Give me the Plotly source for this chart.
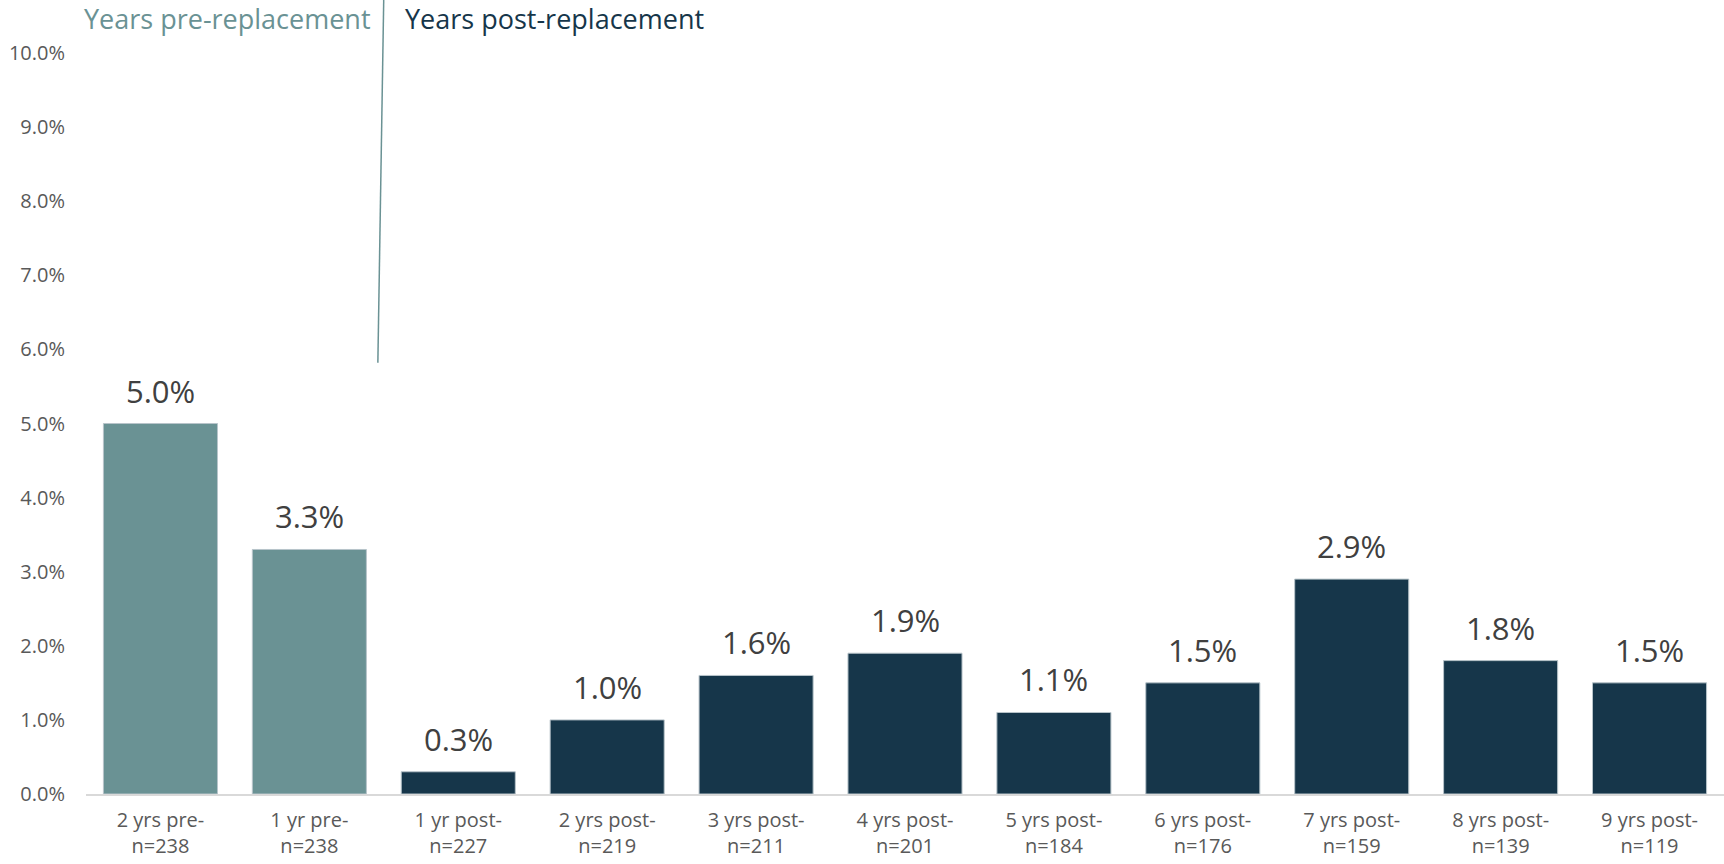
import plotly.graph_objects as go

categories = ["2 yrs pre-", "1 yr pre-", "1 yr post-", "2 yrs post-", "3 yrs post-",
              "4 yrs post-", "5 yrs post-", "6 yrs post-", "7 yrs post-", "8 yrs post-", "9 yrs post-"]
sample_sizes = [238, 238, 227, 219, 211, 201, 184, 176, 159, 139, 119]
values = [5.0, 3.3, 0.3, 1.0, 1.6, 1.9, 1.1, 1.5, 2.9, 1.8, 1.5]
phase = ["pre", "pre", "post", "post", "post", "post", "post", "post", "post", "post", "post"]
y_ticks = [0, 1, 2, 3, 4, 5, 6, 7, 8, 9, 10]

PRE = "#6a9294"
POST = "#16364a"

x_idx = list(range(len(categories)))
tick_text = [f"{c}<br>n={n}" for c, n in zip(categories, sample_sizes)]
colors = [PRE if p == "pre" else POST for p in phase]

fig = go.Figure()
fig.add_trace(go.Bar(
    x=x_idx, y=values,
    marker=dict(color=colors, line=dict(color="#b8c4ca", width=1)),
    width=0.766,
    hoverinfo="skip",
))

for xi, v in zip(x_idx, values):
    fig.add_annotation(x=xi, y=v, text=f"{v:.1f}%", showarrow=False,
                       yanchor="bottom", yshift=10,
                       font=dict(family="Open Sans", size=31, color="#404040"))

fig.add_annotation(x=1.43, xref="x", y=1.046, yref="paper", text="Years pre-replacement",
                   showarrow=False, xanchor="right", yanchor="middle",
                   font=dict(family="Open Sans", size=27, color=PRE))
fig.add_annotation(x=1.63, xref="x", y=1.046, yref="paper", text="Years post-replacement",
                   showarrow=False, xanchor="left", yanchor="middle",
                   font=dict(family="Open Sans", size=27, color=POST))

fig.add_shape(type="line", xref="x", yref="paper", x0=1.46, x1=1.5, y0=0.582, y1=1.08,
              line=dict(color=PRE, width=1.5))

fig.update_layout(
    width=1724, height=864,
    margin=dict(l=86, r=0, t=53, b=70),
    paper_bgcolor="white", plot_bgcolor="white",
    showlegend=False,
    xaxis=dict(
        range=[-0.5, len(categories) - 0.5],
        tickvals=x_idx, ticktext=tick_text,
        showline=True, linecolor="#d9d9d9", linewidth=2,
        showgrid=False, zeroline=False, ticks="",
        ticklabelstandoff=7, automargin=False,
        tickfont=dict(family="Open Sans", size=20, color="#595959"),
    ),
    yaxis=dict(
        range=[0, 10],
        tickvals=y_ticks, ticktext=[f"{t:.1f}%" for t in y_ticks],
        showgrid=False, zeroline=False, showline=False, ticks="",
        ticklabelstandoff=20, automargin=False,
        tickfont=dict(family="Open Sans", size=20, color="#595959"),
    ),
)

fig.write_html("out.html")
